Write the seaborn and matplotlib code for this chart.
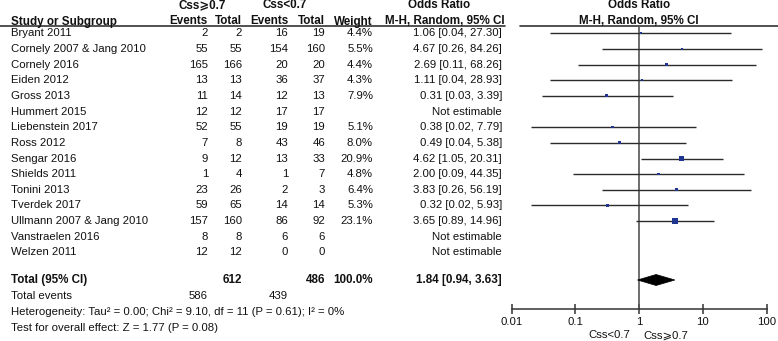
import numpy as np
import pandas as pd
import matplotlib
matplotlib.use("Agg")
import matplotlib.pyplot as plt
import seaborn as sns
from matplotlib.patches import Polygon

# Study data
studies = ["Bryant 2011", "Cornely 2007 & Jang 2010", "Cornely 2016", "Eiden 2012",
           "Gross 2013", "Hummert 2015", "Liebenstein 2017", "Ross 2012", "Sengar 2016",
           "Shields 2011", "Tonini 2013", "Tverdek 2017", "Ullmann 2007 & Jang 2010",
           "Vanstraelen 2016", "Welzen 2011"]
events_hi = [2, 55, 165, 13, 11, 12, 52, 7, 9, 1, 23, 59, 157, 8, 12]
total_hi = [2, 55, 166, 13, 14, 12, 55, 8, 12, 4, 26, 65, 160, 8, 12]
events_lo = [16, 154, 20, 36, 12, 17, 19, 43, 13, 1, 2, 14, 86, 6, 0]
total_lo = [19, 160, 20, 37, 13, 17, 19, 46, 33, 7, 3, 14, 92, 6, 0]
weights = [4.4, 5.5, 4.4, 4.3, 7.9, np.nan, 5.1, 8.0, 20.9, 4.8, 6.4, 5.3, 23.1, np.nan, np.nan]
odds = [1.06, 4.67, 2.69, 1.11, 0.31, np.nan, 0.38, 0.49, 4.62, 2.00, 3.83, 0.32, 3.65, np.nan, np.nan]
ci_low = [0.04, 0.26, 0.11, 0.04, 0.03, np.nan, 0.02, 0.04, 1.05, 0.09, 0.26, 0.02, 0.89, np.nan, np.nan]
ci_high = [27.30, 84.26, 68.26, 28.93, 3.39, np.nan, 7.79, 5.38, 20.31, 44.35, 56.19, 5.93, 14.96, np.nan, np.nan]

total_n_hi, total_n_lo = 612, 486
total_ev_hi, total_ev_lo = 586, 439
pooled_or, pooled_lo, pooled_hi = 1.84, 0.94, 3.63
ticks = [0.01, 0.1, 1, 10, 100]
tick_labels = ["0.01", "0.1", "1", "10", "100"]
het_text = "Heterogeneity: Tau² = 0.00; Chi² = 9.10, df = 11 (P = 0.61); I² = 0%"
test_text = "Test for overall effect: Z = 1.77 (P = 0.08)"

GE = "Css\u2a7e0.7"
LT = "Css<0.7"

sns.set_theme(style="white")
plt.rcParams["font.family"] = ["Liberation Sans", "DejaVu Sans"]
FS = 8.2
FSB = 8.4
INK = "#111111"
NAVY = "#1f3590"

W, H = 778, 341
fig = plt.figure(figsize=(W / 100, H / 100), dpi=100)

# table axes in pixel coordinates
tab = fig.add_axes([0, 0, 1, 1])
tab.set_xlim(0, W)
tab.set_ylim(H, 0)
tab.axis("off")

# forest axes: log scale 0.01..100 between px 511.7 and 766.7
x0, x1 = 511.7, 766.7
fx = fig.add_axes([x0 / W, 0, (x1 - x0) / W, 1])
fx.set_xscale("log")
fx.set_xlim(0.01, 100)
fx.set_ylim(H, 0)
fx.patch.set_alpha(0)

row0, step = 33.3, 15.65
ypos = [row0 + step * i for i in range(len(studies))]
y_total = 280
y_tev = 296
y_het = 312
y_test = 328
y_axis = 309.3

df = pd.DataFrame({"study": studies, "or": odds, "lo": ci_low, "hi": ci_high,
                   "w": weights, "y": ypos})
est = df.dropna()

# confidence intervals
fx.hlines(est["y"], est["lo"], est["hi"], color="#2b2b2b", lw=1.0, zorder=2)
# point estimates, size by weight
sns.scatterplot(data=est, x="or", y="y", size="w", sizes=(2.7, 14.3), size_norm=(4.3, 23.1),
                marker="s", color=NAVY, linewidth=0, legend=False, ax=fx, zorder=3)
fx.set_xlabel("")
fx.set_ylabel("")

# pooled diamond
dh = 5.5
fx.add_patch(Polygon([(pooled_lo, y_total), (pooled_or, y_total - dh),
                      (pooled_hi, y_total), (pooled_or, y_total + dh)],
                     closed=True, facecolor="black", edgecolor="black", lw=0.5, zorder=4))

# line of no effect
fx.vlines(1, 25, y_axis, color="#555555", lw=1.2, zorder=1)

# axis
for s in ["top", "left", "right"]:
    fx.spines[s].set_visible(False)
fx.spines["bottom"].set_position(("data", y_axis))
fx.spines["bottom"].set_color("#333333")
fx.spines["bottom"].set_linewidth(1.1)
fx.set_xticks(ticks)
fx.set_xticklabels(tick_labels, fontsize=FS)
fx.minorticks_off()
fx.tick_params(axis="x", direction="inout", length=7, width=1.1, color="#333333",
               pad=2, bottom=True, labelcolor=INK)
fx.set_yticks([])
fx.grid(False)

fx.text(0.72, 335.5, LT, ha="right", va="center", fontsize=FS, color=INK)
fx.text(1.15, 335.5, GE, ha="left", va="center", fontsize=FS, color=INK)

# headers
hb = dict(fontsize=FSB, fontweight="bold", color=INK, va="center")
tab.text(202, 5.5, GE, ha="center", **hb)
tab.text(285, 5.5, LT, ha="center", **hb)
tab.text(11, 21.5, "Study or Subgroup", ha="left", **hb)
tab.text(208, 21.5, "Events", ha="right", **hb)
tab.text(242, 21.5, "Total", ha="right", **hb)
tab.text(289, 21.5, "Events", ha="right", **hb)
tab.text(325, 21.5, "Total", ha="right", **hb)
tab.text(373, 21.5, "Weight", ha="right", **hb)
tab.text(439, 5.5, "Odds Ratio", ha="center", **hb)
tab.text(445, 21.5, "M-H, Random, 95% CI", ha="center", **hb)
tab.text(639, 5.5, "Odds Ratio", ha="center", **hb)
tab.text(639, 21.5, "M-H, Random, 95% CI", ha="center", **hb)
tab.plot([0, 505], [25.5, 25.5], color="#333333", lw=1.2)
tab.plot([520, W], [25.5, 25.5], color="#333333", lw=1.2)

# rows
tn = dict(fontsize=FS, color=INK, va="center")
for i, name in enumerate(studies):
    y = ypos[i]
    tab.text(11, y, name, ha="left", **tn)
    tab.text(208, y, str(events_hi[i]), ha="right", **tn)
    tab.text(242, y, str(total_hi[i]), ha="right", **tn)
    tab.text(288, y, str(events_lo[i]), ha="right", **tn)
    tab.text(325, y, str(total_lo[i]), ha="right", **tn)
    if np.isnan(odds[i]):
        tab.text(502, y, "Not estimable", ha="right", **tn)
    else:
        tab.text(373, y, f"{weights[i]:.1f}%", ha="right", **tn)
        tab.text(502, y, f"{odds[i]:.2f} [{ci_low[i]:.2f}, {ci_high[i]:.2f}]", ha="right", **tn)

# totals
tab.text(11, y_total, "Total (95% CI)", ha="left", **hb)
tab.text(242, y_total, str(total_n_hi), ha="right", **hb)
tab.text(325, y_total, str(total_n_lo), ha="right", **hb)
tab.text(373, y_total, "100.0%", ha="right", **hb)
tab.text(502, y_total, f"{pooled_or:.2f} [{pooled_lo:.2f}, {pooled_hi:.2f}]", ha="right", **hb)
tab.text(11, y_tev, "Total events", ha="left", **tn)
tab.text(208, y_tev, str(total_ev_hi), ha="right", **tn)
tab.text(288, y_tev, str(total_ev_lo), ha="right", **tn)
tab.text(11, y_het, het_text, ha="left", **tn)
tab.text(11, y_test, test_text, ha="left", **tn)

fig.savefig("out.png", dpi=100)
